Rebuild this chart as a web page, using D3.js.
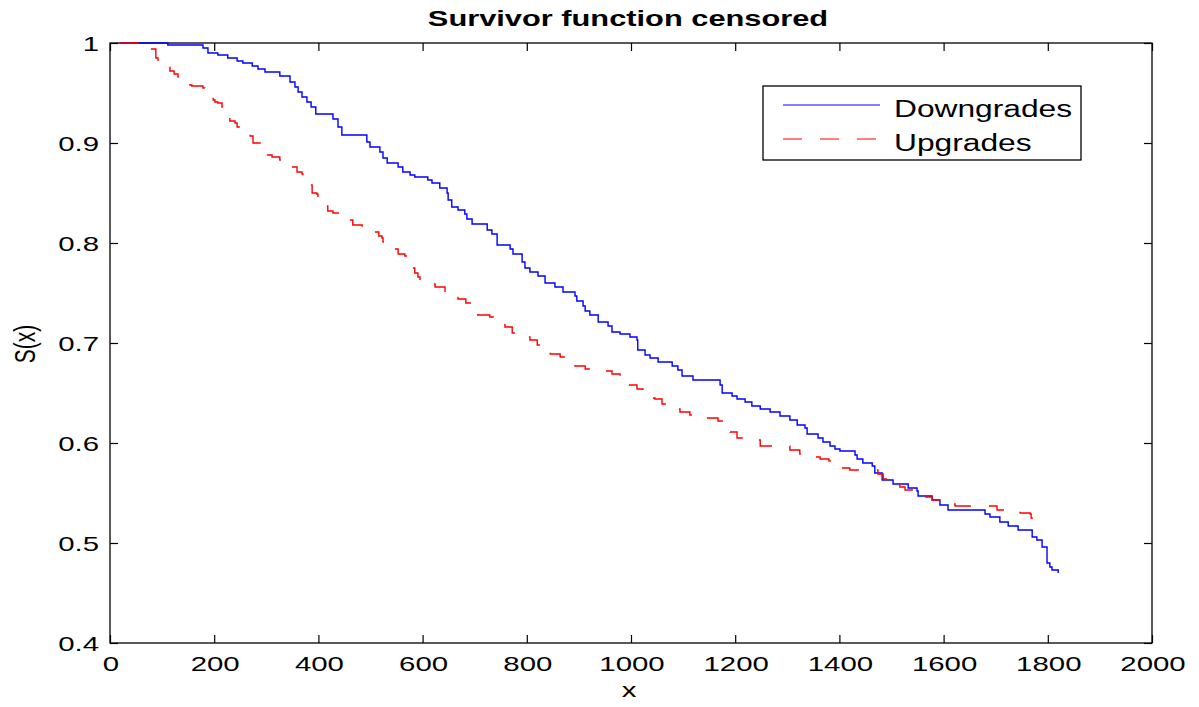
<!DOCTYPE html>
<html lang="en">
<head>
  <meta charset="utf-8">
  <title>Survivor function censored</title>
  <style>
    body { margin: 0; background: #fff; }
    text { font-family: "Liberation Sans", Arial, Helvetica, sans-serif; fill: #000; }
  </style>
</head>
<body>
<script src="https://cdn.jsdelivr.net/npm/d3@7/dist/d3.min.js"></script>
<script>
// step times and survivor values after each step
var downTime = [19, 111, 178.5, 188, 207, 226, 244, 255, 273, 284, 297.5, 326, 345.5, 355, 361, 368.5, 378, 386, 395, 428,
  437.6, 445, 493, 499, 518, 524, 532, 553, 562, 576, 585, 610, 618, 633, 647, 649, 656, 668, 681, 685,
  695, 724, 733, 743, 768, 773.5, 791, 796.5, 806, 821.5, 835, 854, 869.5, 892.5, 896, 908, 912, 921, 937, 956,
  963.5, 979, 998, 1011.5, 1013, 1027, 1036.5, 1052, 1079, 1090, 1098, 1119, 1171, 1175, 1194, 1203.5, 1219, 1232, 1248, 1267,
  1286, 1305, 1319, 1334, 1338, 1359, 1368.5, 1382, 1391.5, 1401, 1430, 1434, 1445, 1463, 1468, 1482, 1503, 1532, 1549, 1551,
  1578, 1593, 1608.5, 1679.5, 1689, 1708, 1724, 1743, 1770, 1779, 1789, 1798.5, 1804, 1808, 1820];
var downSurv = [1, 0.998, 0.995, 0.990, 0.988, 0.985, 0.982, 0.980, 0.977, 0.974, 0.971, 0.967, 0.961, 0.956, 0.951, 0.946, 0.941, 0.936, 0.929, 0.924,
  0.916, 0.908, 0.901, 0.896, 0.891, 0.885, 0.880, 0.876, 0.871, 0.868, 0.866, 0.863, 0.860, 0.855, 0.850, 0.843, 0.836, 0.833, 0.829, 0.824,
  0.819, 0.813, 0.809, 0.798, 0.794, 0.789, 0.781, 0.775, 0.771, 0.767, 0.760, 0.756, 0.751, 0.747, 0.742, 0.737, 0.732, 0.728, 0.721, 0.717,
  0.711, 0.709, 0.706, 0.703, 0.693, 0.688, 0.685, 0.681, 0.677, 0.673, 0.667, 0.663, 0.658, 0.650, 0.647, 0.644, 0.641, 0.637, 0.634, 0.631,
  0.627, 0.623, 0.618, 0.615, 0.609, 0.605, 0.601, 0.597, 0.594, 0.592, 0.588, 0.584, 0.580, 0.577, 0.570, 0.563, 0.559, 0.555, 0.552, 0.547,
  0.543, 0.538, 0.533, 0.529, 0.526, 0.521, 0.517, 0.513, 0.506, 0.503, 0.496, 0.480, 0.476, 0.473, 0.470];

var upTime = [19, 77, 88, 92, 100, 107.5, 115, 123, 130.5, 138, 146, 153.5, 157, 178.5, 182, 190, 198, 201.5, 207, 215,
  217, 222.5, 230, 240, 244, 253, 263, 269, 274.5, 288, 290, 299, 311, 326, 341.5, 349, 359, 368.5, 370, 380,
  384, 388, 397, 399, 407, 413, 418, 428, 441, 455, 466, 484, 486, 507, 516, 522, 524, 535.5, 543, 553,
  566, 570, 578, 585, 591, 595, 610, 624, 643, 656, 668, 683, 695, 706, 729, 743, 758, 772, 787, 806,
  820, 831, 845, 864, 877, 889, 892.5, 912, 925, 963.5, 979, 992, 994, 1011.5, 1023, 1033, 1036.5, 1046, 1059.5, 1069,
  1094, 1113, 1132, 1167, 1180, 1190, 1203.5, 1219, 1248, 1305, 1324, 1349, 1363, 1380, 1388, 1395.5, 1420, 1474, 1484, 1503,
  1516, 1526, 1558.5, 1566, 1578, 1608.5, 1622, 1702.5, 1747, 1766, 1768, 1773, 1777];
var upSurv = [1, 0.994, 0.985, 0.983, 0.980, 0.976, 0.972, 0.969, 0.966, 0.964, 0.961, 0.958, 0.957, 0.955, 0.952, 0.947, 0.943, 0.941, 0.940, 0.936,
  0.933, 0.928, 0.922, 0.920, 0.916, 0.914, 0.913, 0.907, 0.900, 0.895, 0.891, 0.888, 0.886, 0.883, 0.881, 0.876, 0.871, 0.869, 0.866, 0.865,
  0.858, 0.850, 0.849, 0.845, 0.842, 0.837, 0.832, 0.830, 0.828, 0.823, 0.818, 0.817, 0.815, 0.811, 0.807, 0.805, 0.801, 0.799, 0.794, 0.789,
  0.787, 0.781, 0.775, 0.770, 0.766, 0.763, 0.759, 0.756, 0.751, 0.747, 0.744, 0.740, 0.735, 0.728, 0.726, 0.721, 0.716, 0.710, 0.706, 0.703,
  0.698, 0.693, 0.689, 0.686, 0.683, 0.681, 0.677, 0.674, 0.672, 0.669, 0.664, 0.663, 0.658, 0.654, 0.649, 0.647, 0.645, 0.644, 0.639, 0.634,
  0.631, 0.628, 0.625, 0.622, 0.617, 0.611, 0.605, 0.603, 0.597, 0.593, 0.589, 0.586, 0.584, 0.582, 0.581, 0.575, 0.573, 0.569, 0.564, 0.560,
  0.556, 0.553, 0.550, 0.546, 0.543, 0.539, 0.537, 0.533, 0.530, 0.529, 0.525, 0.523, 0.521];

var seriesNames = ["Downgrades", "Upgrades"];
var xTicks = [0, 200, 400, 600, 800, 1000, 1200, 1400, 1600, 1800, 2000];
var yTicks = [0.4, 0.5, 0.6, 0.7, 0.8, 0.9, 1];

var W = 1199, H = 707;
var sx = 1.4; // text is stretched sideways in the original

var x = d3.scaleLinear().domain([0, 2000]).range([110, 1152]);
var y = d3.scaleLinear().domain([0.4, 1]).range([643, 43]);

var svg = d3.select("body").append("svg")
  .attr("width", W).attr("height", H);

// ticks, inward on all four sides
svg.append("g").attr("transform", "translate(0,643)")
  .call(d3.axisBottom(x).tickValues(xTicks).tickSize(-8).tickFormat(""));
svg.append("g").attr("transform", "translate(0,43)")
  .call(d3.axisTop(x).tickValues(xTicks).tickSize(-8).tickFormat(""));
svg.append("g").attr("transform", "translate(110,0)")
  .call(d3.axisLeft(y).tickValues(yTicks).tickSize(-8).tickFormat(""));
svg.append("g").attr("transform", "translate(1152,0)")
  .call(d3.axisRight(y).tickValues(yTicks).tickSize(-8).tickFormat(""));
svg.selectAll(".domain").remove();
svg.selectAll(".tick line").attr("stroke", "#000").attr("stroke-width", 1.2);

svg.append("rect")
  .attr("x", 110).attr("y", 43)
  .attr("width", 1152 - 110).attr("height", 643 - 43)
  .attr("fill", "none").attr("stroke", "#000").attr("stroke-width", 1.3);

// tick labels
svg.selectAll(".xl").data(xTicks).enter().append("text")
  .attr("transform", function(d) { return "translate(" + (x(d) + 1) + ",671) scale(" + sx + ",1)"; })
  .attr("text-anchor", "middle")
  .style("font-size", "21px")
  .text(function(d) { return d; });

svg.selectAll(".yl").data(yTicks).enter().append("text")
  .attr("transform", function(d) { return "translate(99," + (y(d) + 8) + ") scale(" + sx + ",1)"; })
  .attr("text-anchor", "end")
  .style("font-size", "21px")
  .text(function(d) { return d; });

// title and axis labels
svg.append("text")
  .attr("transform", "translate(628,26) scale(" + sx + ",1)")
  .attr("text-anchor", "middle")
  .style("font-size", "22px").style("font-weight", "bold")
  .text("Survivor function censored");

svg.append("text")
  .attr("transform", "translate(629,697) scale(" + sx + ",1)")
  .attr("text-anchor", "middle")
  .style("font-size", "21px")
  .text("x");

svg.append("text")
  .attr("transform", "translate(35,344) rotate(-90) scale(1," + sx + ")")
  .attr("text-anchor", "middle")
  .style("font-size", "21px")
  .text("S(x)");

// survivor curves
var line = d3.line()
  .x(function(d) { return x(d[0]); })
  .y(function(d) { return y(d[1]); })
  .curve(d3.curveStepAfter);

var downPts = d3.zip(downTime, downSurv);
var upPts = d3.zip(upTime, upSurv);

svg.append("path").datum(downPts)
  .attr("d", line)
  .attr("fill", "none").attr("stroke", "#0000ff").attr("stroke-width", 1.4);

svg.append("path").datum(upPts)
  .attr("d", line)
  .attr("fill", "none").attr("stroke", "#ff0000").attr("stroke-width", 1.4)
  .attr("stroke-dasharray", "19,18");

// legend
var lg = svg.append("g");
lg.append("rect")
  .attr("x", 763).attr("y", 86).attr("width", 318).attr("height", 74)
  .attr("fill", "#fff").attr("stroke", "#000").attr("stroke-width", 1.3);

var legColors = ["#0000ff", "#ff0000"];
var legDash = [null, "19,18"];
var legY = [105, 139];
seriesNames.forEach(function(name, i) {
  lg.append("line")
    .attr("x1", 783).attr("x2", 880).attr("y1", legY[i]).attr("y2", legY[i])
    .attr("stroke", legColors[i]).attr("stroke-width", 1.2)
    .attr("stroke-dasharray", legDash[i]);
  lg.append("text")
    .attr("transform", "translate(894," + (legY[i] + 12) + ") scale(1.38,1)")
    .style("font-size", "23px")
    .text(name);
});
</script>
</body>
</html>
